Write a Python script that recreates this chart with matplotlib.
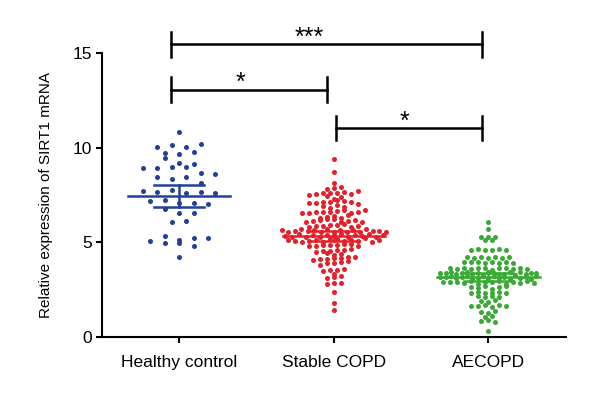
import matplotlib.pyplot as plt
import numpy as np

plt.rcParams['font.family'] = ['Liberation Sans', 'DejaVu Sans']

groups = ['Healthy control', 'Stable COPD', 'AECOPD']

healthy = [10.81, 10.02, 10.14, 10.05, 10.19, 9.70, 9.66, 9.43, 9.78, 8.94,
           8.94, 9.20, 9.12, 8.96, 8.99, 8.67, 8.43, 8.32, 8.43, 8.59,
           8.11, 7.70, 7.18, 7.67, 7.76, 7.62, 7.67, 7.62, 7.23, 7.05,
           7.05, 6.74, 7.00, 6.53, 6.53, 6.08, 6.12, 5.08, 4.97, 4.97,
           5.33, 5.11, 5.20, 4.81, 5.20, 4.23]

stable = [9.38, 8.69, 8.11,
          7.79, 7.85, 7.90,
          7.52, 7.55, 7.58, 7.60, 7.62, 7.65, 7.55, 7.70,
          7.44, 7.30, 7.38,
          7.05, 7.09, 7.10, 7.15, 7.23, 7.20, 7.12, 7.02,
          6.91, 6.80, 6.95, 6.85,
          6.52, 6.55, 6.60, 6.58, 6.62, 6.65, 6.70, 6.55, 6.60, 6.68,
          6.30, 6.35, 6.40, 6.28, 6.45,
          6.05, 6.10, 6.15, 6.20, 6.22, 6.05, 6.12, 6.18, 6.08,
          5.80, 5.85, 5.88, 5.90, 5.92, 5.95, 5.82, 5.86,
          5.65, 5.55, 5.60, 5.70, 5.58, 5.62, 5.52, 5.68, 5.50, 5.66,
          5.56, 5.64, 5.54, 5.72, 5.59, 5.61, 5.53,
          5.35, 5.30, 5.42, 5.25, 5.38, 5.28, 5.40, 5.32, 5.45, 5.27,
          5.36, 5.31, 5.44, 5.26, 5.39,
          5.10, 5.05, 5.00, 5.08, 5.12, 5.02, 5.15, 5.18, 5.04, 5.11,
          5.07, 5.20, 5.01, 5.14,
          4.80, 4.82, 4.83, 4.85, 4.86, 4.88, 4.90, 4.78,
          4.50, 4.52, 4.55, 4.60, 4.58, 4.65,
          4.45, 4.30, 4.40,
          4.05, 4.10, 4.12, 4.15, 4.18, 4.20, 4.22,
          3.80, 3.90, 3.92, 3.95, 3.98,
          3.50, 3.52, 3.55, 3.60,
          3.30,
          3.10, 3.15, 3.20,
          2.80, 2.83, 2.85,
          2.37, 1.78, 1.43]

aecopd = [6.08, 5.70,
          5.29, 5.30, 5.27,
          5.10, 5.12,
          4.60, 4.62, 4.58, 4.60, 4.63, 4.57,
          4.20, 4.18, 4.22, 4.15, 4.20, 4.17, 4.21,
          3.95, 3.93, 3.97, 3.90, 3.95, 3.88, 3.96, 3.92,
          3.63, 3.60, 3.65, 3.58, 3.62, 3.66, 3.55, 3.61, 3.64, 3.59,
          3.63, 3.57,
          3.37, 3.35, 3.40, 3.30, 3.38, 3.42, 3.33, 3.36, 3.28, 3.45,
          3.39, 3.31, 3.34, 3.41, 3.27, 3.43, 3.32, 3.38, 3.36,
          3.17, 3.15, 3.20, 3.10, 3.18, 3.22, 3.05, 3.13, 3.19, 3.08,
          3.21, 3.12, 3.16, 3.03, 3.24, 3.11, 3.14, 3.06, 3.23,
          2.90, 2.88, 2.92, 2.85, 2.95, 2.80, 2.90, 2.87, 2.93, 2.78,
          2.91, 2.84, 2.96, 2.82,
          2.65, 2.60, 2.68, 2.55, 2.62, 2.70,
          2.34, 2.36, 2.32, 2.30, 2.38, 2.33,
          2.15, 2.12, 2.18, 2.10,
          1.90, 1.85, 1.95,
          1.65, 1.62, 1.68, 1.60, 1.70, 1.64,
          1.30, 1.28, 1.35,
          1.05, 1.10,
          0.85, 0.88, 0.80,
          0.30]

means = [7.44, 5.33, 3.17]
errs = [0.58, 0.28, 0.20]
colors = ['#22409a', '#e5202a', '#3aaa35']

# significance brackets: (x1, x2, y, label, label x)
brackets = [(-0.05, 1.96, 15.45, '***', 0.84),
            (-0.05, 0.955, 13.07, '*', 0.40),
            (1.015, 1.96, 11.04, '*', 1.46)]

fig = plt.figure(figsize=(6, 4), dpi=100)
ax = fig.add_axes([0.1695, 0.158, 0.7735, 0.7095])
px_x = 0.7735 * 600 / 3.0  # pixels per x unit


def row_offsets(vals, binw, max_step, half_w):
    # spread points of each y-bin into a centred row
    vals = np.asarray(vals)
    xs = np.zeros(len(vals))
    bins = np.floor(vals / binw)
    for b in np.unique(bins):
        idx = np.where(bins == b)[0]
        n = len(idx)
        step = max_step if n < 2 else min(max_step, 2 * half_w / (n - 1))
        xs[idx] = (np.arange(n) - (n - 1) / 2) * step / px_x
    return xs


data = [healthy, stable, aecopd]
layout = [(0.5, 14.5, 48), (0.25, 7.0, 52), (0.25, 7.0, 48)]
for i, (vals, col, (bw, st, hw)) in enumerate(zip(data, colors, layout)):
    xs = i + row_offsets(vals, bw, st, hw)
    ax.scatter(xs, vals, s=13, color=col, linewidths=0, zorder=3)
    ax.plot([i - 0.33, i + 0.33], [means[i]] * 2, color=col, lw=1.8, zorder=4)
    ax.plot([i, i], [means[i] - errs[i], means[i] + errs[i]], color=col, lw=1.8, zorder=4)
    for yy in (means[i] - errs[i], means[i] + errs[i]):
        ax.plot([i - 0.16, i + 0.16], [yy, yy], color=col, lw=1.8, zorder=4)

for x1, x2, y, lab, lx in brackets:
    ax.plot([x1, x2], [y, y], color='black', lw=1.8, clip_on=False)
    for xx in (x1, x2):
        ax.plot([xx, xx], [y - 0.65, y + 0.65], color='black', lw=1.8, clip_on=False)
    ax.text(lx, y + 0.33, lab, ha='center', va='center', fontsize=18, clip_on=False)

ax.set_xlim(-0.5, 2.5)
ax.set_ylim(0, 15)
ax.set_yticks([0, 5, 10, 15])
ax.set_xticks([0, 1, 2])
ax.set_xticklabels(groups)
ax.tick_params(labelsize=12.5, width=1.5, length=4)
ax.tick_params(axis='x', pad=9)
ax.tick_params(axis='y', pad=3)
ax.set_ylabel('Relative expression of SIRT1 mRNA', fontsize=11, labelpad=14)
for s in ['top', 'right']:
    ax.spines[s].set_visible(False)
for s in ['left', 'bottom']:
    ax.spines[s].set_linewidth(1.5)

fig.savefig('out.png', dpi=100)
